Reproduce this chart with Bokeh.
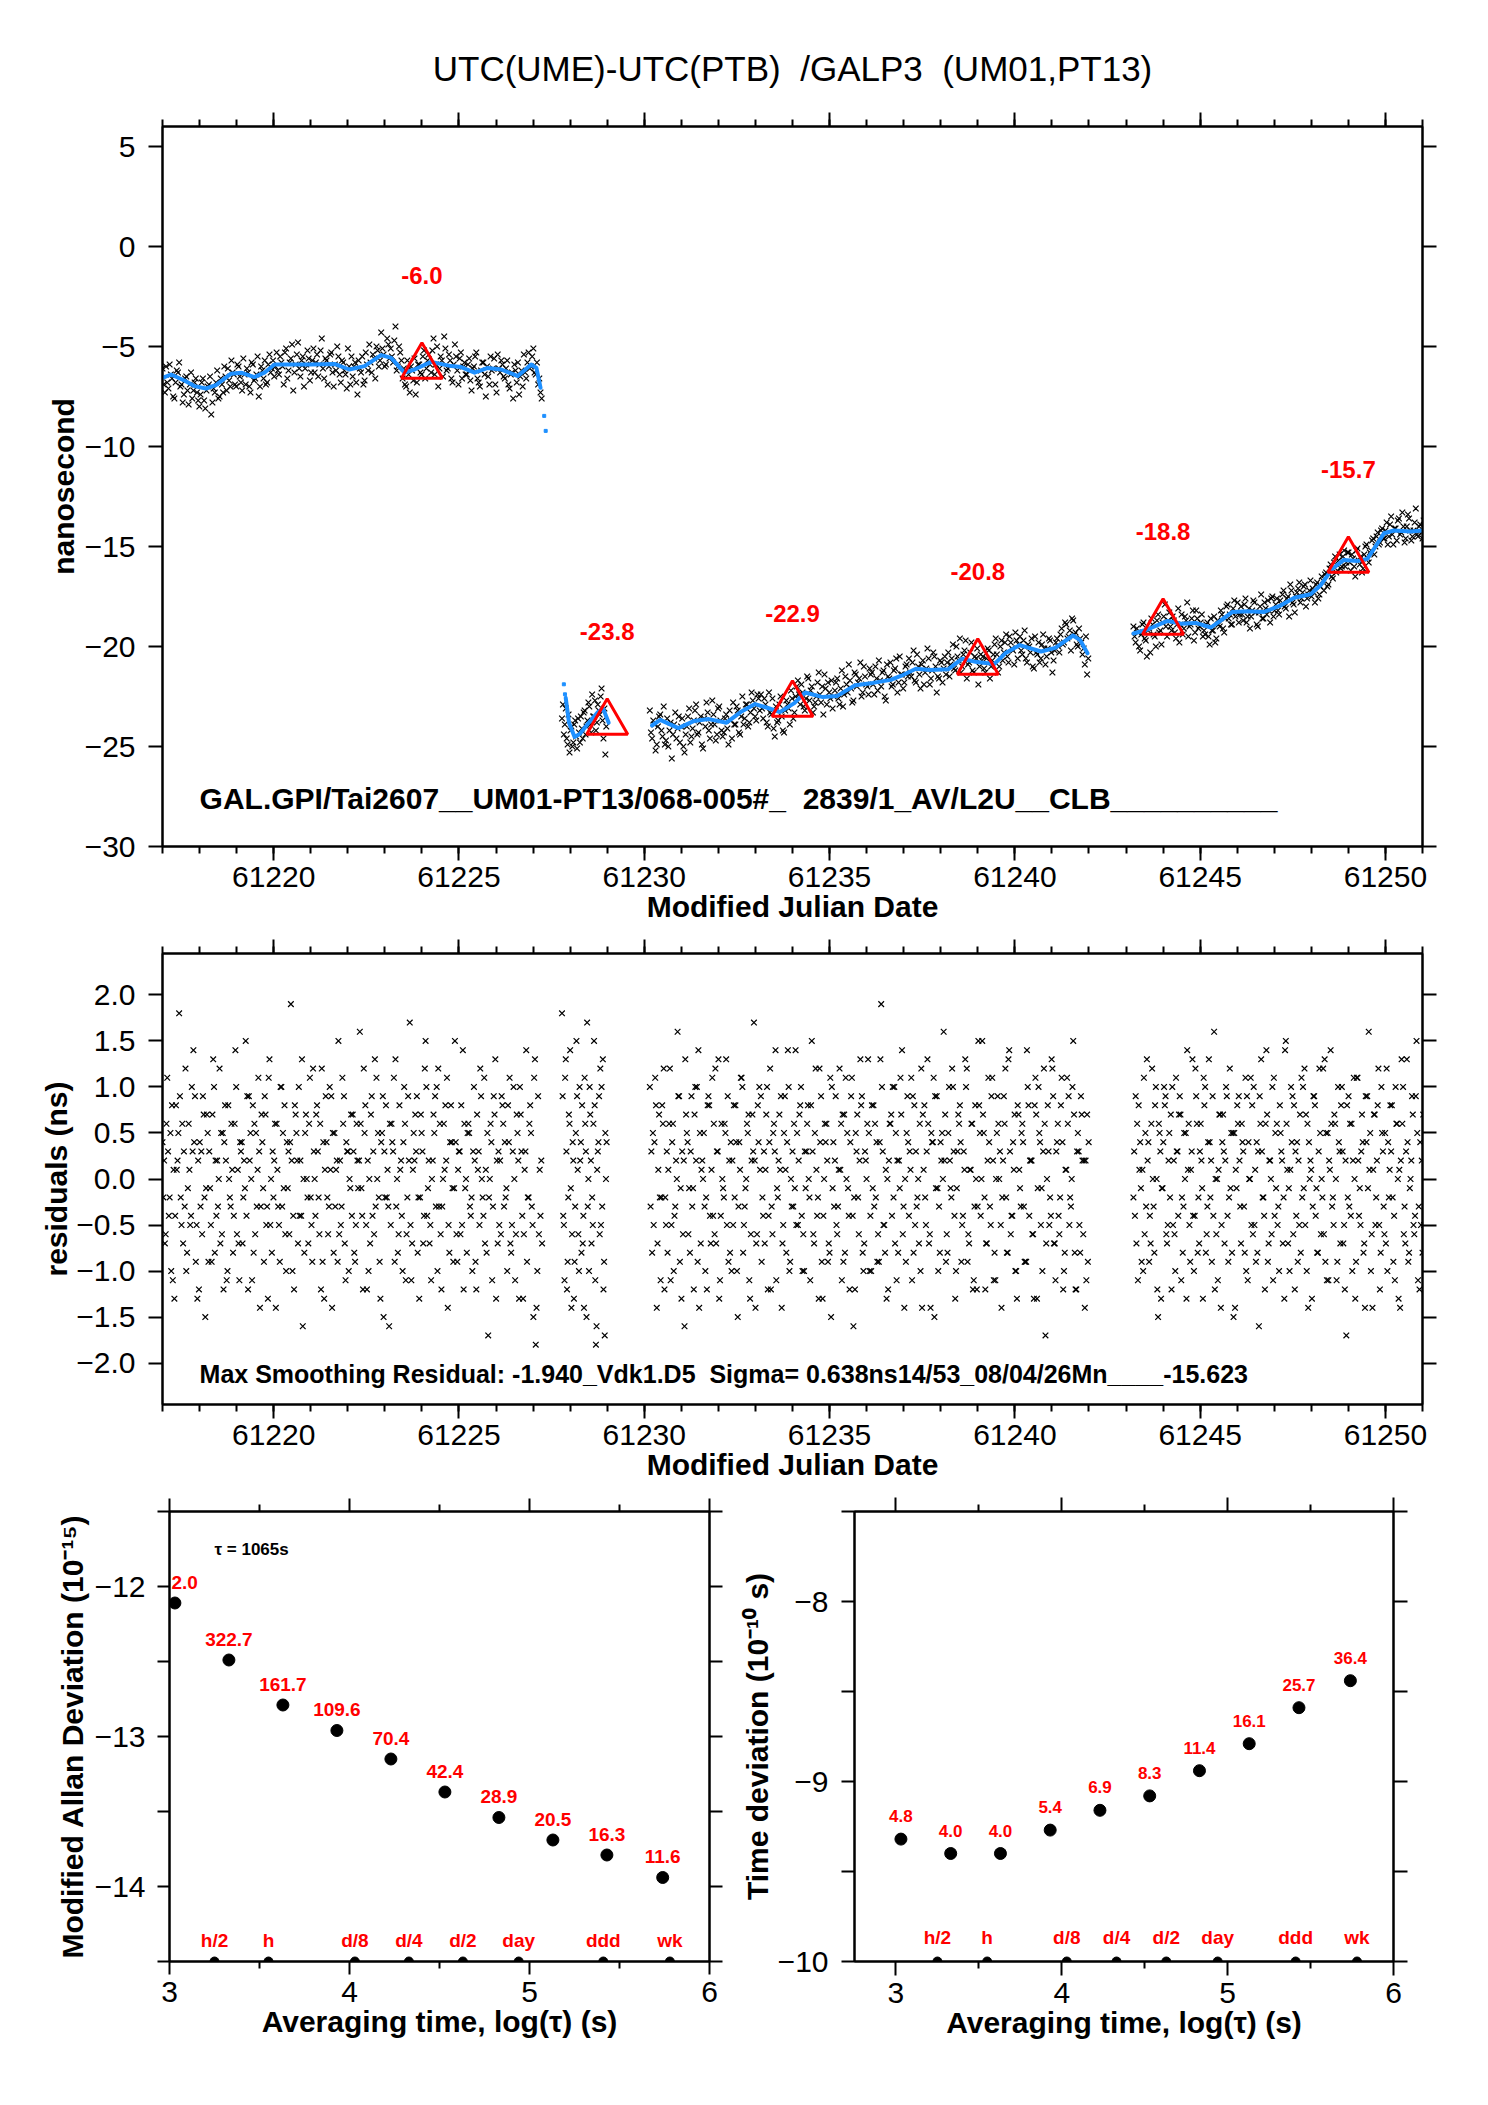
import numpy as np
from bokeh.plotting import figure
from bokeh.models import LinearAxis, FixedTicker, Range1d, CustomJSTickFormatter
from bokeh.layouts import column, row
from bokeh.core.properties import value
from bokeh.embed import file_html
from bokeh.resources import INLINE

FONT = "Liberation Sans"
BLUE = "#1e90ff"
NB = "\u00a0"  # keeps the double spaces of the original labels visible

title_text = "UTC(UME)-UTC(PTB) " + NB + "/GALP3 " + NB + "(UM01,PT13)"
info_top = "GAL.GPI/Tai2607__UM01-PT13/068-005#_ " + NB + "2839/1_AV/L2U__CLB__________"
info_mid = "Max Smoothing Residual: -1.940_Vdk1.D5 " + NB + "Sigma= 0.638ns14/53_08/04/26Mn____-15.623"

# data blocks (MJD start / end of each continuous run of GALP3 epochs)
seg_start = [61217.00, 61227.78, 61230.15, 61243.20]
seg_end = [61227.20, 61228.95, 61241.95, 61251.00]

# UTC(UME)-UTC(PTB) raw values, ns (two interleaved tracks per block)
top_1 = [-6.1, -7.3, -6.8, -5.9, -6.6, -7.6, -6.2, -5.8, -6.9, -7.4, -6.5, -7.9, -6.3, -7.2, -6.6, -7.7,
         -7.4, -6.6, -8.1, -7.0, -6.5, -7.8, -7.3, -6.2, -7.5, -6.9, -6.0, -7.2, -6.7, -5.7, -6.4, -7.0,
         -6.0, -6.8, -5.6, -6.9, -6.3, -7.3, -5.9, -6.6, -5.5, -7.0, -6.2, -5.7, -6.8, -5.4, -6.1, -6.5,
         -5.3, -6.4, -5.8, -6.9, -5.1, -6.2, -5.6, -7.2, -5.9, -4.8, -6.5, -5.5, -6.1, -5.2, -6.7, -5.7,
         -6.3, -5.4, -5.9, -4.6, -6.6, -5.7, -6.0, -5.3, -7.0, -6.2, -5.5, -6.8, -5.8, -6.4, -5.1, -6.9,
         -6.5, -5.8, -7.4, -6.1, -5.5, -6.7, -5.9, -4.9, -6.3, -5.6, -5.0, -6.0, -4.3, -5.4, -5.9, -4.9,
         -5.1, -5.8, -4.0, -6.0, -5.3, -6.6, -6.9, -5.7, -7.3, -6.2, -5.6, -6.8, -5.9, -6.4, -5.2, -6.1,
         -5.4, -6.3, -4.6, -5.9, -7.0, -5.5, -6.5, -5.1, -6.1, -5.7, -6.8, -4.9, -6.2, -5.6, -6.6, -5.8,
         -6.4, -5.6, -7.2, -6.0, -5.3, -6.8, -6.2, -5.8, -7.5, -6.5, -5.5, -6.1, -6.9, -5.4, -6.3, -5.9,
         -6.6, -5.7, -7.1, -6.3, -5.9, -6.8, -7.4, -6.2, -5.4, -6.6, -5.3, -6.0, -5.1, -6.4, -6.9, -7.3]
top_1b = [-6.9, -6.0, -7.1, -6.4, -7.5, -6.8, -6.3, -7.0, -7.8, -6.6, -7.2, -6.9, -7.6, -6.8, -7.3, -8.0,
          -6.8, -7.7, -7.2, -6.9, -8.4, -7.1, -6.8, -7.6, -6.6, -7.3, -6.5, -6.1, -7.0, -6.3, -6.9, -5.9,
          -6.5, -7.2, -6.4, -6.1, -7.0, -5.8, -6.7, -6.4, -7.5, -6.0, -6.6, -6.9, -5.9, -6.3, -5.7, -6.0,
          -6.2, -5.5, -6.0, -5.3, -6.6, -5.8, -4.9, -6.3, -5.4, -6.1, -5.7, -7.0, -5.9, -5.6, -6.3, -5.1,
          -5.8, -6.5, -5.2, -6.1, -5.6, -6.9, -5.4, -6.3, -5.9, -5.0, -6.4, -5.7, -6.2, -7.1, -6.0, -5.5,
          -6.0, -6.8, -5.7, -6.3, -6.9, -5.3, -6.2, -5.8, -5.4, -6.6, -5.2, -5.7, -5.1, -6.0, -4.6, -5.6,
          -5.5, -4.7, -6.2, -5.0, -5.7, -6.1, -7.0, -6.4, -6.0, -6.7, -7.4, -5.9, -6.3, -5.5, -6.6, -5.7,
          -5.9, -5.2, -6.4, -5.0, -6.1, -5.7, -4.5, -6.2, -5.4, -6.6, -5.9, -5.5, -6.9, -5.3, -6.0, -6.4,
          -5.9, -6.7, -6.1, -5.5, -6.6, -7.0, -5.8, -6.4, -6.0, -6.9, -6.2, -5.6, -7.3, -6.1, -5.7, -6.5,
          -6.1, -6.9, -6.4, -7.6, -6.2, -5.8, -6.5, -7.0, -6.3, -5.8, -6.1, -5.5, -6.3, -5.8, -6.6, -7.6]
top_2 = [-23.6, -24.4, -23.1, -24.9, -25.3, -24.0, -24.8, -23.7, -25.1, -24.3, -23.5, -24.6,
         -23.2, -24.0, -22.8, -23.9, -22.4, -23.5, -24.2, -22.9, -23.4, -22.1, -24.6, -25.4]
top_2b = [-22.9, -23.9, -24.6, -23.4, -24.2, -25.0, -23.9, -24.5, -23.6, -24.8, -24.1, -23.3,
          -24.4, -23.7, -23.0, -24.3, -23.5, -22.7, -23.8, -23.2, -22.5, -23.7, -23.1, -24.0]
top_3 = [-23.2, -24.6, -23.9, -24.9, -23.5, -24.2, -23.0, -24.7, -25.0, -23.8, -24.4, -23.3, -24.1, -24.8, -23.6, -25.3,
         -24.0, -23.1, -24.5, -23.7, -22.9, -24.3, -23.5, -25.1, -24.0, -23.3, -24.6, -22.7, -23.9, -24.4, -23.0, -24.2,
         -24.3, -23.4, -24.9, -23.7, -22.8, -23.9, -23.2, -24.4, -22.5, -23.6, -22.9, -23.8, -22.3, -23.1, -23.7, -22.6,
         -22.4, -23.6, -22.9, -24.0, -23.3, -22.6, -24.5, -23.8, -22.9, -23.5, -24.3, -22.7, -23.1, -22.2, -23.6, -22.5,
         -21.7, -22.9, -22.3, -23.2, -21.5, -22.7, -22.0, -23.0, -22.5, -21.3, -22.8, -23.4, -22.1, -21.8, -22.6, -23.1,
         -22.2, -21.6, -22.9, -21.2, -22.4, -21.9, -20.9, -22.1, -22.7, -21.4, -21.8, -20.8, -22.3, -21.5, -22.0, -21.1,
         -21.3, -22.4, -21.6, -20.7, -22.0, -21.2, -22.7, -21.5, -20.8, -21.9, -21.1, -22.3, -20.5, -21.4, -21.8, -20.9,
         -20.6, -21.5, -20.2, -21.8, -21.0, -22.1, -20.7, -21.3, -20.1, -21.9, -21.2, -20.5, -22.3, -21.6, -20.8, -21.1,
         -21.4, -20.3, -20.9, -19.9, -21.2, -20.5, -19.6, -21.0, -20.2, -21.6, -20.8, -19.8, -21.3, -20.6, -21.9, -20.4,
         -20.5, -21.3, -20.1, -21.6, -20.7, -19.9, -20.4, -21.0, -19.7, -20.3, -19.4, -20.8, -19.8, -20.2, -19.3, -20.6,
         -19.5, -20.4, -19.2, -20.8, -20.0, -19.6, -21.1, -20.3, -19.8, -20.6, -19.4, -20.9, -20.1, -19.7, -21.3, -20.2,
         -19.6, -20.3, -19.1, -19.8, -18.9, -19.5, -20.2, -18.7, -19.3, -20.0, -19.6, -20.4, -20.9, -21.4]
top_3b = [-24.3, -23.7, -25.2, -24.0, -23.4, -24.5, -24.9, -23.6, -24.2, -25.6, -23.9, -24.6, -23.5, -24.0, -25.0, -24.4,
          -23.5, -24.8, -24.1, -23.2, -24.4, -23.8, -24.9, -23.6, -22.8, -24.2, -23.9, -23.4, -24.7, -23.1, -23.7, -24.5,
          -23.6, -24.1, -23.2, -24.6, -23.9, -23.0, -24.3, -23.5, -23.9, -22.9, -24.0, -23.3, -22.7, -23.5, -22.4, -23.2,
          -23.1, -22.6, -23.8, -22.3, -23.4, -24.1, -23.0, -23.7, -22.5, -24.2, -23.2, -22.9, -23.9, -22.6, -23.3, -22.0,
          -22.4, -21.9, -23.0, -22.6, -21.6, -22.2, -23.3, -22.8, -21.8, -22.4, -22.0, -21.4, -22.9, -22.3, -21.7, -22.5,
          -21.8, -22.6, -22.1, -23.0, -21.5, -22.3, -21.7, -22.8, -21.3, -22.0, -21.6, -22.5, -21.0, -21.9, -22.4, -21.4,
          -21.9, -21.0, -22.2, -21.7, -21.3, -22.5, -20.9, -21.6, -22.0, -21.2, -20.6, -21.8, -21.4, -22.1, -21.0, -21.5,
          -21.3, -20.8, -21.7, -20.4, -21.4, -20.9, -21.9, -21.1, -20.6, -21.6, -20.3, -21.0, -21.5, -20.7, -21.8, -20.5,
          -20.8, -21.5, -20.6, -21.1, -20.0, -20.7, -21.3, -20.4, -19.7, -20.9, -20.3, -21.2, -20.5, -20.1, -21.0, -20.7,
          -21.1, -20.6, -20.2, -21.0, -20.4, -19.6, -21.3, -20.0, -20.7, -19.8, -20.5, -19.5, -20.1, -20.9, -19.7, -19.9,
          -20.2, -19.7, -20.6, -19.9, -20.3, -21.0, -19.5, -20.4, -20.8, -19.9, -20.1, -20.5, -19.6, -20.3, -20.7, -19.8,
          -20.0, -19.4, -19.9, -18.8, -19.6, -19.2, -18.6, -19.4, -19.9, -19.1, -19.8, -20.1, -19.5, -20.6]
top_4 = [-19.0, -19.8, -19.3, -20.2, -18.9, -19.6, -20.5, -19.1, -18.6, -19.4, -20.0, -18.4, -19.2, -18.8, -17.9, -19.5,
         -18.3, -19.2, -18.7, -19.6, -18.1, -18.9, -19.4, -18.5, -17.8, -19.0, -18.6, -19.7, -18.2, -19.1, -18.8, -19.5,
         -19.4, -18.8, -19.9, -19.2, -18.5, -19.6, -18.9, -18.2, -19.1, -18.6, -17.9, -18.4, -18.9, -17.7, -18.3, -18.8,
         -18.0, -18.7, -17.6, -18.5, -19.1, -18.2, -17.8, -18.9, -18.3, -17.4, -18.6, -18.1, -17.7, -18.8, -17.5, -18.2,
         -17.6, -18.4, -17.9, -17.2, -18.1, -17.5, -16.9, -17.8, -18.3, -17.3, -16.8, -17.6, -17.0, -18.0, -17.4, -16.7,
         -17.1, -17.8, -16.8, -17.4, -16.5, -17.2, -16.3, -16.9, -15.9, -16.6, -15.5, -16.2, -15.4, -16.0, -15.2, -15.8,
         -15.3, -16.2, -15.6, -16.5, -15.1, -15.9, -16.3, -15.4, -14.9, -15.8, -15.2, -14.6, -15.0, -14.3, -14.8, -14.1,
         -14.6, -13.8, -14.5, -13.5, -14.9, -14.1, -13.7, -14.4, -13.3, -14.8, -14.0, -13.6, -14.7, -14.2, -13.1, -14.5,
         -13.9, -14.6]
top_4b = [-19.5, -19.1, -20.0, -19.4, -18.8, -19.7, -19.2, -20.3, -18.9, -19.5, -18.7, -19.3, -19.9, -18.5, -19.0, -18.7,
          -19.0, -18.5, -19.3, -18.9, -19.8, -18.4, -19.1, -18.7, -19.5, -18.9, -18.2, -19.3, -18.6, -19.0, -18.4, -19.2,
          -18.9, -19.5, -18.6, -19.2, -19.8, -18.7, -19.0, -18.4, -19.3, -18.0, -18.6, -18.9, -18.1, -18.5, -17.8, -18.4,
          -18.4, -17.9, -18.8, -18.1, -18.5, -17.7, -18.3, -19.0, -18.0, -18.6, -17.8, -18.4, -18.2, -17.6, -18.5, -17.9,
          -18.2, -17.7, -17.4, -18.0, -17.6, -18.5, -17.2, -17.9, -17.5, -17.1, -17.8, -17.3, -16.9, -17.6, -17.2, -17.5,
          -17.3, -16.9, -17.6, -17.0, -16.7, -16.4, -17.0, -16.1, -16.5, -15.8, -16.3, -15.7, -16.1, -15.5, -16.0, -15.3,
          -15.8, -15.4, -16.0, -15.2, -15.7, -15.5, -16.1, -15.0, -15.6, -15.3, -14.7, -15.4, -14.5, -14.9, -14.2, -14.6,
          -14.2, -14.9, -13.9, -14.4, -14.1, -14.7, -13.6, -14.3, -14.0, -14.6, -13.4, -14.2, -14.5, -13.8, -14.4, -14.0,
          -14.3, -13.7]

# smoothing curve (blue), read at its turning points
smooth1_x = [61217.02, 61217.23, 61217.59, 61217.86, 61218.17, 61218.44, 61218.85, 61219.12, 61219.48, 61219.75,
             61220.02, 61220.38, 61221.01, 61221.64, 61222.04, 61222.45, 61222.90, 61223.17, 61223.53, 61223.80,
             61224.25, 61224.79, 61225.06, 61225.42, 61225.78, 61226.14, 61226.59, 61226.95, 61227.09, 61227.20]
smooth1_y = [-6.56, -6.40, -6.70, -6.98, -7.10, -6.93, -6.36, -6.31, -6.53, -6.31,
             -5.90, -5.90, -5.90, -5.87, -6.15, -5.98, -5.43, -5.57, -6.31, -6.15,
             -5.77, -5.98, -6.03, -6.31, -6.07, -6.15, -6.48, -5.90, -6.07, -7.06]
smooth2_x = [61227.88, 61227.97, 61228.12, 61228.26, 61228.50, 61228.75, 61228.89, 61229.04]
smooth2_y = [-22.56, -23.81, -24.52, -24.38, -23.81, -23.28, -23.10, -23.81]
smooth3_x = [61230.21, 61230.43, 61230.92, 61231.35, 61231.74, 61232.22, 61232.60, 61232.99, 61233.38, 61233.66,
             61234.05, 61234.34, 61234.82, 61235.21, 61235.69, 61236.17, 61236.65, 61236.94, 61237.33, 61237.71,
             61238.20, 61238.58, 61238.97, 61239.45, 61239.74, 61240.13, 61240.71, 61241.09, 61241.57, 61241.76,
             61241.96]
smooth3_y = [-23.95, -23.67, -24.08, -23.72, -23.63, -23.81, -23.28, -22.88, -23.10, -23.28,
             -22.83, -22.30, -22.53, -22.47, -21.94, -21.82, -21.67, -21.46, -21.11, -21.18,
             -21.14, -20.61, -20.78, -20.87, -20.34, -19.93, -20.25, -20.07, -19.45, -19.68,
             -20.34]
smooth4_x = [61243.20, 61243.58, 61244.12, 61244.48, 61244.88, 61245.29, 61245.56, 61245.87, 61246.28, 61246.73,
             61247.18, 61247.54, 61247.98, 61248.25, 61248.57, 61248.88, 61249.24, 61249.51, 61249.69, 61249.96,
             61250.23, 61250.68, 61251.00]
smooth4_y = [-19.35, -19.15, -18.72, -18.86, -18.82, -19.05, -18.69, -18.27, -18.24, -18.27,
             -17.94, -17.56, -17.39, -16.94, -16.11, -15.67, -15.73, -15.62, -15.12, -14.34,
             -14.20, -14.25, -14.20]
# isolated points of the smoothing at the block edges
dot_x = [61227.30, 61227.34, 61227.83, 61227.86]
dot_y = [-8.47, -9.22, -21.89, -22.39]

# daily marks (red triangles)
tri_mjd = [61224, 61229, 61234, 61239, 61244, 61249]
tri_val = [-6.0, -23.8, -22.9, -20.8, -18.8, -15.7]

# residuals to the smoothing, ns (three interleaved tracks per block)
resid_1 = [0.4, -0.7, 1.1, -0.2, 0.8, -1.3, 0.1, 1.8, -0.5, 0.3, -1.0, 0.6, -0.4, 1.4, -0.9, 0.2,
           -0.3, 0.9, -1.5, 0.5, -0.1, 0.7, -0.8, 0.2, 1.2, -0.6, 0.4, -1.1, 0.0, 0.6, -0.4, 1.0,
           -0.7, 0.3, -0.2, 1.5, -1.2, 0.5, 0.8, -0.6, 0.1, -1.4, 0.4, 0.9, -0.3, 1.3, -0.8, 0.2,
           0.6, -0.5, 1.0, -0.1, -1.0, 0.3, 1.9, -0.4, 0.7, -0.7, 0.2, -1.6, 0.5, -0.2, 1.1, -0.9,
           0.0, 0.8, -0.6, 1.2, -1.3, 0.4, -0.3, 0.9, -0.8, 0.1, 1.5, -0.5, 0.6, -1.1, 0.3, -0.1,
           0.7, -0.9, 0.2, 1.6, -0.4, 0.5, -1.2, 0.0, 0.9, -0.6, 1.1, -0.2, 0.4, -1.5, 0.8, -0.3,
           -0.5, 0.3, 1.3, -0.8, 0.1, -1.0, 0.6, -0.2, 1.7, -0.7, 0.2, 0.9, -1.3, 0.5, -0.4, 1.0,
           0.2, -1.1, 0.7, -0.3, 1.2, -0.6, 0.0, 0.8, -1.4, 0.4, -0.1, 1.5, -0.9, 0.3, -0.5, 0.6,
           -0.8, 0.5, -0.2, 1.0, -1.2, 0.3, 0.9, -0.4, 0.1, -1.7, 0.6, -0.3, 1.3, -0.7, 0.2, 0.8,
           0.4, -1.0, 1.1, -0.5, 0.0, 0.7, -1.3, 0.3, -0.6, 1.4, -0.2, 0.5, -1.5, -1.8, 0.9, -0.4]
resid_1b = [-0.2, -0.6, 0.3, 0.5, -1.1, -0.4, 0.2, 0.9, 0.6, -0.3, -0.8, 0.1, 1.0, 0.4, -0.5, -1.2,
            0.3, 0.7, -0.1, -0.9, -0.5, 1.3, 0.2, -0.3, -0.7, 0.5, 0.8, -1.0, -0.2, 0.1, 0.6, -0.6,
            -1.1, 0.4, 0.2, -0.4, 0.9, 0.0, -0.8, 0.5, 1.1, -0.3, -0.1, 0.7, -1.3, -0.5, 0.3, 0.6,
            0.1, -0.9, -0.3, 0.8, 0.4, -0.6, 0.2, -1.2, 0.5, 1.0, -0.4, 0.0, 0.7, -0.7, -0.2, 1.2,
            -0.4, 0.3, 0.6, -0.9, 0.1, -0.2, 1.0, -1.4, 0.5, 0.2, -0.6, -0.3, 0.9, 0.4, -1.0, 0.7,
            0.3, -0.5, -0.1, 0.6, -1.2, 0.8, 0.2, -0.7, -0.4, 1.3, 0.0, -0.9, 0.5, 0.3, -0.2, -1.6,
            0.6, 1.1, -0.3, -0.6, 0.2, 0.4, -1.1, 0.9, -0.5, 0.1, 0.7, -0.8, -0.2, 0.3, 1.2, -0.4,
            -0.7, 0.0, 0.5, 1.0, -0.3, -1.2, 0.6, 0.2, -0.5, 0.8, -0.9, 0.4, 0.1, -0.6, 1.4, -0.1,
            0.5, -0.3, -1.0, 0.2, 0.7, -0.5, 0.0, 1.1, -0.8, -0.2, 0.4, 0.9, -1.3, 0.3, -0.6, 0.6,
            -0.2, 0.8, -0.7, 0.3, -1.1, 0.5, 1.0, -0.4, 0.1, -0.9, 0.6, -0.3, 1.1, -1.4, -0.6, 0.2]
resid_1c = [0.2, 0.6, -0.4, -1.0, 0.1, 0.8, 0.5, -0.2, -0.7, 1.2, -0.1, -0.5, 0.3, 0.9, -1.3, 0.4,
            -0.6, -0.2, 0.7, 0.3, -0.9, 1.0, -0.4, 0.0, 0.5, -1.2, 0.2, 0.8, -0.3, -0.8, 1.4, 0.1,
            0.4, -0.7, -0.1, 0.9, 0.2, -1.1, 0.6, -0.3, 0.3, 0.7, -0.9, -0.5, 1.1, 0.0, -0.2, -1.4,
            -0.3, 1.0, 0.5, -0.6, -0.1, 0.4, -1.0, 0.8, 0.2, -0.4, 1.3, -0.8, 0.0, 0.6, -0.5, 0.3,
            0.7, -0.2, -1.2, 0.4, 0.9, -0.6, 0.1, 0.5, -0.3, -0.9, 0.2, 1.1, -0.7, 0.3, 0.0, -0.4,
            -0.8, 0.6, 0.2, -0.1, 1.2, -0.5, -1.0, 0.7, 0.3, -0.3, 0.5, -1.3, 0.9, -0.2, 0.1, 0.6,
            0.4, -0.9, 0.0, 0.8, -0.4, 1.0, -0.6, 0.2, -1.1, 0.5, 0.3, -0.2, 0.7, -0.7, 1.5, -0.1,
            -0.5, 0.2, 0.9, -1.0, 0.6, -0.3, 0.1, 1.1, -0.8, 0.4, -0.1, -0.6, 0.3, 0.8, -1.2, 0.0,
            0.6, -0.4, 0.3, -0.9, 0.1, 1.2, -0.2, -0.7, 0.5, 0.0, -1.1, 0.7, 0.2, -0.5, 0.9, -0.3,
            -0.1, 0.4, -0.8, 1.0, -0.6, 0.2, 0.7, -1.3, 0.3, -0.2, 0.8, -0.5, 1.3, -1.0, 0.1, -0.7]
resid_2 = [1.8, -0.5, 1.3, -0.9, 0.6, -1.4, 0.2, -0.3, 0.9, -1.0, 0.4, -0.7,
           1.1, -1.5, 0.0, 0.7, -0.2, 1.5, -1.8, 0.3, -0.6, 1.0, -1.2, 0.5]
resid_2b = [0.9, -1.1, 0.3, -0.2, 1.4, -0.6, -1.3, 0.5, 0.1, 1.0, -0.8, -0.4,
            0.6, 1.7, -1.0, 0.2, -0.5, 0.8, -1.6, 0.4, 1.2, -0.3, -0.9, 0.0]
resid_2c = [-0.4, 1.1, -1.2, 0.7, -0.1, 0.4, -0.9, 1.5, -0.6, 0.2, 0.8, -1.4,
            0.3, -0.3, 1.0, -0.7, 0.6, -1.1, 0.1, 0.9, -0.5, 1.3, -1.7, 0.4]
resid_3 = [1.0, -0.8, 0.4, -1.4, 0.7, -0.2, 1.2, -0.5, 0.1, -1.1, 0.6, -0.3, 1.6, -0.9, 0.3, -1.6,
           0.5, -0.1, 0.9, -1.2, 0.2, 1.4, -0.7, 0.0, -1.0, 0.8, -0.4, 1.1, -0.6, 0.3, -1.3, 0.6,
           -0.2, 1.3, -0.9, 0.4, -0.5, 0.8, -1.5, 0.1, 1.0, -0.3, 0.6, -1.1, 0.2, 1.7, -0.7, 0.4,
           0.9, -0.4, 0.1, -1.2, 1.2, -0.6, 0.3, -0.1, 0.7, -1.4, 0.5, -0.8, 1.0, 0.0, -0.3, 1.4,
           -0.5, 0.8, -1.0, 0.3, 0.6, -0.2, 1.5, -0.7, 0.1, -1.3, 0.9, -0.4, 0.4, -0.9, 1.1, -0.1,
           0.2, -0.6, 1.2, -1.1, 0.7, 0.0, -0.4, 0.9, -1.6, 0.5, -0.2, 1.3, -0.8, 0.3, 0.6, -1.0,
           0.8, -0.3, 0.4, -0.9, 1.9, -0.5, 0.1, -1.2, 0.6, 1.0, -0.7, 0.2, -0.1, 1.4, -1.4, 0.5,
           -0.4, 1.1, -0.8, 0.3, 0.0, -1.0, 0.7, -0.2, 1.3, -0.6, 0.4, -1.5, 0.9, -0.3, 0.2, 1.6,
           -0.9, 0.5, -0.1, 1.0, -1.3, 0.3, 0.8, -0.5, 0.1, 1.2, -0.7, 0.6, -1.1, 0.0, 1.5, -0.4,
           0.7, -1.2, 0.2, -0.3, 1.1, -0.8, 0.5, 0.0, -1.4, 0.9, -0.2, 1.3, -0.6, 0.4, -1.0, 0.8,
           -0.1, 0.6, -0.9, 1.4, -0.4, 0.2, -1.3, 0.7, 1.0, -0.5, 0.3, -1.7, 0.8, -0.2, 1.2, -0.7,
           0.4, -0.6, 1.1, -1.0, 0.1, 0.9, -0.3, 1.5, -1.2, 0.5, -0.8, 0.2, -1.4, 0.7]
resid_3b = [-0.3, 0.5, 1.1, -0.7, -0.2, 0.8, -1.2, 0.3, 0.6, -0.5, -1.0, 0.2, 0.9, -0.1, -0.6, 1.3,
            0.4, -0.8, -0.3, 0.7, 1.0, -1.4, 0.1, 0.5, -0.2, 0.9, -0.7, -0.4, 1.2, 0.3, -1.1, 0.0,
            0.6, -0.5, 0.2, -1.0, 0.8, 0.4, -0.3, 1.1, -0.8, -0.1, 0.5, -1.3, 0.7, 0.2, -0.6, 1.0,
            -0.9, 0.3, 0.7, -0.4, -1.2, 0.5, 1.4, -0.2, 0.1, -0.7, 0.9, 0.4, -1.0, -0.3, 0.6, -0.5,
            0.2, 1.0, -0.6, -0.1, 0.8, -1.1, 0.3, 0.5, -0.4, 1.2, -0.9, 0.0, 0.6, -0.7, -1.5, 0.4,
            0.9, -0.3, 0.1, 0.7, -0.8, 0.5, -1.2, 1.1, -0.2, 0.3, -0.6, 0.8, -1.0, 0.2, 1.3, -0.4,
            -0.1, 0.6, -0.9, 0.4, 1.0, -0.5, -1.3, 0.2, 0.7, -0.2, 0.5, -0.8, 1.1, -0.6, 0.0, 0.9,
            0.3, -1.1, 0.8, -0.3, -0.7, 1.2, 0.1, -0.5, 0.6, -1.4, 0.4, 0.9, -0.1, -0.8, 0.5, 0.2,
            -0.6, 1.0, -0.2, 0.3, -1.0, 0.7, 0.4, -0.4, 1.3, -0.9, 0.1, 0.6, -0.3, -1.2, 0.8, 0.0,
            0.5, -0.7, 1.1, -0.5, 0.2, -1.1, 0.9, 0.3, -0.2, 0.6, -0.8, 1.4, -0.4, 0.1, -1.0, 0.7,
            -0.3, 0.4, -0.9, 1.0, 0.2, -0.6, 0.8, -1.3, 0.5, -0.1, 1.2, -0.7, 0.3, -0.4, 0.9, -1.1,
            0.6, -0.2, 0.4, -0.8, 1.1, -0.5, 0.0, 0.7, -1.2, 0.3, 0.9, -0.6, 0.2, -0.9]
resid_3c = [0.3, -0.5, 0.8, 0.1, -1.1, 0.6, -0.2, -0.8, 1.2, 0.4, -0.4, 0.0, 0.9, -1.3, 0.2, 0.7,
            -0.6, 0.3, -0.1, 1.0, -0.9, 0.5, 0.2, -0.3, -1.2, 0.8, 0.1, 0.6, -0.7, 1.3, -0.4, -0.1,
            0.5, 0.9, -0.8, 0.2, -0.2, -1.0, 0.4, 1.1, -0.5, 0.0, 0.7, -0.6, 0.3, -1.4, 0.8, 0.1,
            -0.2, -0.7, 1.0, 0.4, -0.3, 0.6, -1.1, 0.2, 0.9, -0.5, 0.1, 1.4, -0.9, 0.3, -0.1, 0.5,
            0.7, -0.4, -1.0, 0.3, 0.0, 0.8, -0.6, 1.2, -0.2, 0.4, -1.3, 0.6, 0.2, -0.8, 1.0, -0.3,
            -0.5, 0.1, 0.6, -0.9, 1.1, -0.1, 0.4, -0.4, -1.2, 0.7, 0.2, 0.9, -0.7, 0.0, 0.5, -1.0,
            0.8, -0.2, -0.6, 1.3, 0.3, -0.8, 0.0, 0.6, -0.4, 1.0, -1.1, 0.2, 0.7, -0.3, -0.9, 0.4,
            0.1, 0.9, -0.5, -0.2, 0.6, -1.4, 0.8, 0.3, -0.7, 0.5, 1.1, -0.1, -1.0, 0.4, 0.0, 0.7,
            -0.8, 0.2, 1.2, -0.4, -0.1, 0.6, -0.9, 0.3, 1.0, -0.6, 0.1, -1.2, 0.8, -0.3, 0.5, 1.5,
            -0.2, -0.7, 0.4, 0.9, -1.1, 0.0, 0.6, -0.5, 0.2, 1.2, -0.8, 0.3, -0.4, 0.7, -1.3, 0.1,
            0.5, -0.3, -0.9, 0.8, 0.2, -0.6, 1.1, -0.1, 0.4, -1.0, 0.6, 0.0, -0.5, 1.3, -0.7, 0.3,
            -0.4, 0.8, -1.2, 0.1, 0.6, -0.2, 1.0, -0.8, 0.3, -0.5, 0.7, 0.2, -1.1, 0.4]
resid_4 = [-0.2, 0.9, -1.1, 0.4, 0.1, -0.6, 1.3, -0.9, 0.6, -0.3, 1.0, -1.5, 0.3, -0.1, 0.8, -0.7,
           0.5, -1.2, 0.2, 1.1, -0.4, 0.7, -0.8, 0.0, 1.4, -0.5, 0.3, -1.0, 0.9, -0.2, 0.6, -1.3,
           1.0, -0.3, 0.4, -0.9, 1.6, -0.6, 0.1, -1.4, 0.7, 0.2, -0.4, 1.2, -0.8, 0.5, -0.1, 0.9,
           -0.7, 0.3, 1.1, -1.1, 0.0, 0.8, -0.5, 0.4, -1.6, 1.3, -0.2, 0.6, -0.9, 0.2, 1.0, -0.4,
           0.6, -1.0, 0.3, -0.2, 1.5, -0.7, 0.1, 0.9, -1.2, 0.4, -0.5, 1.1, -0.1, 0.7, -1.4, 0.2,
           -0.3, 0.8, -0.8, 1.2, 0.0, -0.6, 0.5, -1.1, 1.4, -0.2, 0.6, -0.9, 0.3, 1.0, -0.5, -1.7,
           0.9, -0.4, 0.2, -1.3, 1.1, -0.1, 0.7, -0.7, 0.4, 1.6, -1.0, 0.1, -0.5, 0.8, -1.2, 0.5,
           -0.6, 1.2, -0.2, 0.3, -0.9, 1.0, 0.0, -1.4, 0.6, -0.3, 1.3, -0.8, 0.2, -0.5, 0.9, -1.1,
           0.4, -0.8]
resid_4b = [0.3, -0.7, 0.8, -0.1, -1.0, 0.5, 0.2, -0.4, 1.2, -0.8, 0.0, 0.6, -1.3, 0.4, 0.9, -0.5,
            -0.2, 1.0, -0.6, 0.3, 0.7, -1.1, -0.3, 0.5, 0.1, -0.9, 1.3, -0.4, 0.6, -0.7, 0.2, 1.1,
            -0.8, 0.4, -0.2, 0.9, -1.2, 0.0, 0.7, -0.5, 0.3, 1.0, -0.9, -0.1, 0.5, -1.4, 0.8, 0.2,
            0.6, -0.3, -1.0, 0.4, 1.1, -0.6, 0.1, -0.8, 0.9, 0.3, -0.4, 1.4, -0.7, 0.0, -1.1, 0.5,
            -0.5, 0.8, 0.2, -1.3, 0.6, -0.1, 1.0, -0.6, 0.3, -0.9, 0.7, -0.2, 1.2, -1.0, 0.4, 0.1,
            0.9, -0.4, -0.8, 0.5, -0.2, 1.3, -1.1, 0.2, 0.6, -0.5, 0.0, 1.0, -0.7, 0.3, -1.2, 0.8,
            -0.3, 0.6, 1.1, -0.9, 0.2, -0.5, 0.4, -1.4, 0.9, 0.1, -0.6, 0.7, -0.2, 1.2, -0.8, 0.3,
            0.5, -1.0, 0.1, 0.8, -0.4, 0.6, -1.3, 0.2, 1.0, -0.7, 0.4, -0.1, 0.9, -0.6, 1.5, -0.3,
            -0.5, 0.7]
resid_4c = [-0.4, 0.6, 0.1, -0.9, 1.1, -0.3, 0.4, -0.7, 0.0, 0.8, -1.2, 0.5, -0.1, 1.0, -0.6, 0.2,
            0.7, -0.5, -1.0, 0.3, 0.9, -0.2, 0.5, -1.3, 0.6, 0.1, -0.4, 1.2, -0.8, 0.3, -0.1, 0.8,
            -0.6, 1.3, 0.2, -0.4, 0.0, -1.1, 0.7, 0.4, -0.7, 0.9, -0.2, 0.5, -1.5, 0.1, 0.6, -0.3,
            0.4, -0.8, 0.9, 0.0, -0.5, 1.0, -0.9, 0.3, 0.6, -0.2, -1.2, 0.7, 0.2, -0.6, 1.1, -0.1,
            -0.3, 0.5, -0.7, 1.4, 0.1, -1.0, 0.4, 0.8, -0.4, 0.2, -0.8, 1.0, -0.5, 0.6, 0.0, -1.3,
            0.9, -0.1, 0.3, -0.6, 1.2, -0.9, 0.5, 0.1, -0.3, 0.7, -1.1, 0.4, 0.8, -0.7, 0.2, -0.2,
            0.6, -1.0, 0.0, 1.1, -0.4, 0.3, -0.8, 0.9, -0.1, 0.5, -1.4, 0.7, 0.2, -0.5, 1.0, -0.3,
            -0.7, 0.4, 0.8, -0.2, -1.1, 0.6, 0.1, 1.3, -0.6, 0.3, -0.9, 0.0, 0.7, -0.4, 0.5, -1.2,
            0.2, -0.5]

# stability: log10(tau) and log10 of the deviations
adev_x = [3.03, 3.33, 3.63, 3.93, 4.23, 4.53, 4.83, 5.13, 5.43, 5.74]
adev_y = [-12.11, -12.49, -12.79, -12.96, -13.15, -13.37, -13.54, -13.69, -13.79, -13.94]
adev_labels = ["2.0", "322.7", "161.7", "109.6", "70.4", "42.4", "28.9", "20.5", "16.3", "11.6"]
tdev_x = [3.03, 3.33, 3.63, 3.93, 4.23, 4.53, 4.83, 5.13, 5.43, 5.74]
tdev_y = [-9.32, -9.40, -9.40, -9.27, -9.16, -9.08, -8.94, -8.79, -8.59, -8.44]
tdev_labels = ["4.8", "4.0", "4.0", "5.4", "6.9", "8.3", "11.4", "16.1", "25.7", "36.4"]
tag_x = [3.25, 3.55, 4.03, 4.33, 4.63, 4.94, 5.41, 5.78]
tag_labels = ["h/2", "h", "d/8", "d/4", "d/2", "day", "ddd", "wk"]
tau0_text = "\u03c4 = 1065s"

mjd_major = [61220, 61225, 61230, 61235, 61240, 61245, 61250]
mjd_minor = list(range(61217, 61252))


def epochs(s, e, n, frac=0.0):
    # regular sampling of one block; frac shifts an interleaved track by part of a step
    return np.linspace(s, e, n) + frac * (e - s) / (n - 1)


def fmt(dec, whole_only=False):
    skip = "if (Math.abs(tick - Math.round(tick)) > 1e-6) return '';" if whole_only else ""
    return CustomJSTickFormatter(code=skip + "return tick.toFixed(%d).replace('-', '\u2212');" % dec)


def tick_axis(ax, ticks, minor, out, minor_out, dec=None, standoff=6, label_standoff=0, whole_only=False):
    ax.ticker = FixedTicker(ticks=ticks, minor_ticks=minor)
    ax.major_tick_in = 0
    ax.minor_tick_in = 0
    ax.major_tick_out = out
    ax.minor_tick_out = minor_out
    ax.axis_line_width = 2
    ax.major_tick_line_width = 2
    ax.minor_tick_line_width = 2
    ax.axis_line_color = "black"
    ax.major_tick_line_color = "black"
    ax.minor_tick_line_color = "black"
    if dec is None:
        ax.formatter = CustomJSTickFormatter(code="return '';")
        ax.major_label_text_font_size = "0px"
        ax.major_label_standoff = 0
    else:
        ax.formatter = fmt(dec, whole_only)
        ax.major_label_text_font = FONT
        ax.major_label_text_font_size = "30px"
        ax.major_label_text_color = "black"
        ax.major_label_standoff = standoff
        ax.axis_label_text_font = FONT
        ax.axis_label_text_font_size = "30px"
        ax.axis_label_text_font_style = "bold"
        ax.axis_label_text_color = "black"
        ax.axis_label_standoff = label_standoff


def make_fig(w, h, xr, yr, ml, mr, mt, mb, title=None):
    p = figure(width=w, height=h, x_range=Range1d(*xr), y_range=Range1d(*yr), title=title,
               output_backend="svg", toolbar_location=None,
               min_border_left=ml, min_border_right=mr, min_border_top=mt, min_border_bottom=mb)
    p.xgrid.visible = False
    p.ygrid.visible = False
    p.outline_line_color = "black"
    p.outline_line_width = 2
    top = LinearAxis()
    right = LinearAxis()
    p.add_layout(top, "above")
    p.add_layout(right, "right")
    return p, p.below[0], p.left[0], top, right


def label(p, x, y, text, size, dy, align="center", dx=0, color="red"):
    p.text(x=x, y=y, text=text, x_offset=dx, y_offset=dy, text_color=color,
           text_font=value(FONT), text_font_size=size, text_font_style="bold",
           text_align=align, text_baseline="middle")


def crosses(p, blocks, fracs):
    for s, e, tracks in blocks:
        for vals, frac in zip(tracks, fracs):
            p.scatter(epochs(s, e, len(vals), frac), vals, marker="x", size=8,
                      line_color="black", line_width=1.2)


# ---------- top panel: raw data ----------
pA, bA, lA, tA, rA = make_fig(1452, 938, (61217, 61251), (-30, 6), 162, 30, 126, 92, title=title_text)
pA.title.text_font = FONT
pA.title.text_font_size = "35px"
pA.title.text_font_style = "normal"
pA.title.text_color = "black"
pA.title.align = "center"
pA.title.standoff = 50
y_top = [-30, -25, -20, -15, -10, -5, 0, 5]
tick_axis(bA, mjd_major, mjd_minor, 14, 7, dec=0, standoff=6)
tick_axis(tA, mjd_major, mjd_minor, 14, 7)
tick_axis(lA, y_top, [], 14, 0, dec=0, standoff=13, label_standoff=2)
tick_axis(rA, y_top, [], 14, 0)
bA.axis_label = "Modified Julian Date"
lA.axis_label = "nanosecond"

crosses(pA, zip(seg_start, seg_end, [(top_1, top_1b), (top_2, top_2b), (top_3, top_3b), (top_4, top_4b)]),
        (0.0, 0.5))
for xs, ys in [(smooth1_x, smooth1_y), (smooth2_x, smooth2_y), (smooth3_x, smooth3_y), (smooth4_x, smooth4_y)]:
    pA.line(xs, ys, line_color=BLUE, line_width=4, line_join="round", line_cap="round")
pA.scatter(dot_x, dot_y, marker="square", size=3, color=BLUE)
pA.scatter(tri_mjd, tri_val, marker="triangle", size=41, fill_color=None, line_color="red", line_width=3)
label(pA, tri_mjd, tri_val, ["%.1f" % v for v in tri_val], "24px", -91)
label(pA, [61218.0], [-27.6], [info_top], "30px", 0, align="left", color="black")

# ---------- middle panel: residuals ----------
pB, bB, lB, tB, rB = make_fig(1452, 557, (61217, 61251), (-2.45, 2.45), 162, 30, 15, 91)
y_res = [-2.0, -1.5, -1.0, -0.5, 0.0, 0.5, 1.0, 1.5, 2.0]
tick_axis(bB, mjd_major, mjd_minor, 14, 7, dec=0, standoff=6)
tick_axis(tB, mjd_major, mjd_minor, 14, 7)
tick_axis(lB, y_res, [], 14, 0, dec=1, standoff=13, label_standoff=0)
tick_axis(rB, y_res, [], 14, 0)
bB.axis_label = "Modified Julian Date"
lB.axis_label = "residuals (ns)"
crosses(pB, zip(seg_start, seg_end, [(resid_1, resid_1b, resid_1c), (resid_2, resid_2b, resid_2c),
                                      (resid_3, resid_3b, resid_3c), (resid_4, resid_4b, resid_4c)]),
        (0.0, 1 / 3, 2 / 3))
label(pB, [61218.0], [-2.12], [info_mid], "25px", 0, align="left", color="black")

# ---------- bottom left: modified Allan deviation ----------
pC, bC, lC, tC, rC = make_fig(731, 558, (3, 6), (-14.5, -11.5), 169, 22, 16, 92)
x_log = [3, 4, 5, 6]
x_half = [3.5, 4.5, 5.5]
y_adev = [-14.5, -14.0, -13.5, -13.0, -12.5, -12.0, -11.5]
tick_axis(bC, x_log, x_half, 13, 7, dec=0, standoff=7)
tick_axis(tC, x_log, x_half, 13, 7)
tick_axis(lC, y_adev, [], 12, 0, dec=0, standoff=12, label_standoff=3, whole_only=True)
tick_axis(rC, y_adev, [], 13, 0)
bC.axis_label = "Averaging time, log(\u03c4) (s)"
lC.axis_label = "Modified Allan Deviation (10\u207b\u00b9\u2075)"
pC.scatter(adev_x, adev_y, marker="circle", size=12, color="black")
label(pC, adev_x[1:], adev_y[1:], adev_labels[1:], "19px", -21)
label(pC, [pC.x_range.start], adev_y[:1], adev_labels[:1], "19px", -21, align="left", dx=2)
pC.scatter(tag_x, [pC.y_range.start] * len(tag_x), marker="circle", size=9, color="black")
label(pC, tag_x, [pC.y_range.start] * len(tag_x), tag_labels, "19px", -21)
label(pC, [3.25], [-11.75], [tau0_text], "17px", 0, align="left", color="black")

# ---------- bottom right: time deviation ----------
pD, bD, lD, tD, rD = make_fig(692, 558, (2.75, 6), (-10, -7.5), 123, 30, 16, 92)
y_tdev = [-10.0, -9.5, -9.0, -8.5, -8.0, -7.5]
tick_axis(bD, x_log, x_half, 14, 7, dec=0, standoff=7)
tick_axis(tD, x_log, x_half, 14, 7)
tick_axis(lD, y_tdev, [], 13, 0, dec=0, standoff=13, label_standoff=1, whole_only=True)
tick_axis(rD, y_tdev, [], 14, 0)
bD.axis_label = "Averaging time, log(\u03c4) (s)"
lD.axis_label = "Time deviation (10\u207b\u00b9\u2070 s)"
pD.scatter(tdev_x, tdev_y, marker="circle", size=12, color="black")
label(pD, tdev_x, tdev_y, tdev_labels, "17px", -23)
pD.scatter(tag_x, [pD.y_range.start] * len(tag_x), marker="circle", size=9, color="black")
label(pD, tag_x, [pD.y_range.start] * len(tag_x), tag_labels, "19px", -24)

layout = column(pA, pB, row(pC, pD))
open("out.html", "w", encoding="utf-8").write(file_html(layout, INLINE))
